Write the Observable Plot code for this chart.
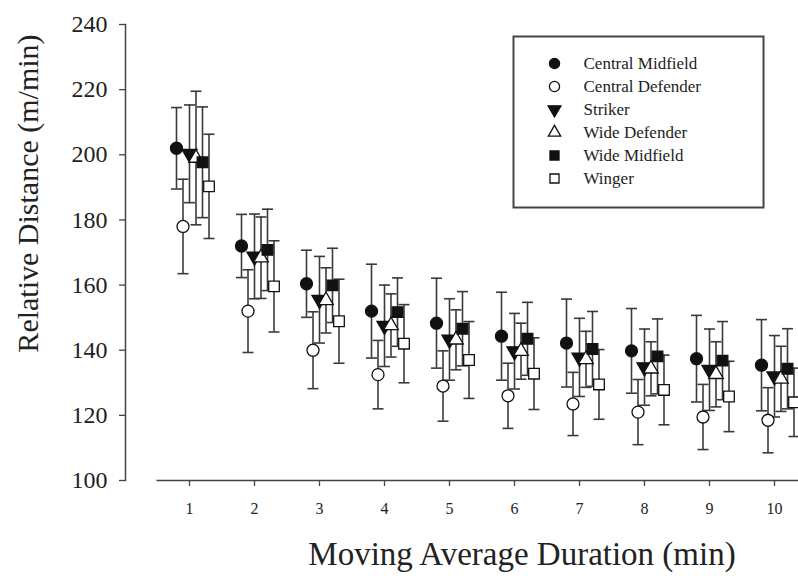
<!DOCTYPE html>
<html><head><meta charset="utf-8">
<script src="https://cdn.jsdelivr.net/npm/d3@7"></script>
<script src="https://cdn.jsdelivr.net/npm/@observablehq/plot@0.6"></script>
<style>
body{margin:0;background:#fff;}
#wrap{position:relative;width:798px;height:576px;overflow:hidden;background:#fff;}
</style></head><body><div id="wrap"></div>
<script>
// ---- data ----
const durations = [1, 2, 3, 4, 5, 6, 7, 8, 9, 10];
const yTicks = [100, 120, 140, 160, 180, 200, 220, 240];
const seriesNames = ["Central Midfield", "Central Defender", "Striker", "Wide Defender", "Wide Midfield", "Winger"];

const centralMidfieldMean = [202, 172, 160.4, 152, 148.3, 144.3, 142.2, 139.8, 137.4, 135.4];
const centralMidfieldSD   = [12.5, 9.7, 10.3, 14.4, 13.8, 13.5, 13.5, 13, 13.3, 14];
const centralDefenderMean = [178, 152, 140, 132.5, 129, 126, 123.5, 121, 119.5, 118.5];
const centralDefenderSD   = [14.5, 12.7, 11.8, 10.5, 10.8, 10, 9.7, 10, 10, 10];
const strikerMean         = [200.3, 168.8, 155.5, 147.5, 143.3, 139.7, 137.8, 134.8, 134, 132];
const strikerSD           = [15, 13, 13.3, 12.5, 12.5, 11.6, 12, 11.7, 12.5, 12.5];
const wideDefenderMean    = [199, 168.4, 155.3, 147.6, 143.2, 139.7, 137.2, 134.3, 132.6, 131.2];
const wideDefenderSD      = [20.5, 12.5, 10, 9.7, 9.2, 8.6, 8.6, 8.3, 10, 10];
const wideMidfieldMean    = [197.7, 170.8, 159.9, 151.7, 146.6, 143.5, 140.4, 138.1, 136.8, 134.3];
const wideMidfieldSD      = [17, 12.5, 11.4, 10.5, 11.4, 11.2, 11.5, 11.5, 12, 12.3];
const wingerMean          = [190.3, 159.6, 148.9, 142, 137, 132.8, 129.5, 127.8, 125.8, 124];
const wingerSD            = [16, 14, 12.9, 12, 11.8, 11, 10.7, 10.7, 10.8, 10.5];

const means = [centralMidfieldMean, centralDefenderMean, strikerMean, wideDefenderMean, wideMidfieldMean, wingerMean];
const sds = [centralMidfieldSD, centralDefenderSD, strikerSD, wideDefenderSD, wideMidfieldSD, wingerSD];

// ---- styles ----
const FONT = '"Liberation Serif", "Times New Roman", Times, serif';
const INK = "#111";
const BAR = "#3a3a3a";
const styles = [
  {symbol: "circle", fill: INK, rotate: 0, r: 6},
  {symbol: "circle", fill: "white", rotate: 0, r: 6},
  {symbol: "triangle", fill: INK, rotate: 180, r: 5.6},
  {symbol: "triangle", fill: "white", rotate: 0, r: 5.4},
  {symbol: "square", fill: INK, rotate: 0, r: 6},
  {symbol: "square", fill: "white", rotate: 0, r: 6}
];
const dodge = 0.1; // horizontal offset between series within a cluster (x units)

const rows = [];
seriesNames.forEach((name, i) => {
  durations.forEach((d, j) => {
    const m = means[i][j], s = sds[i][j];
    rows.push({series: name, si: i, x: d + (i - 2) * dodge, mean: m, lo: m - s, hi: m + s});
  });
});

const cap = {draw(ctx, size) { const w = Math.sqrt(size / Math.PI); ctx.moveTo(-w, 0); ctx.lineTo(w, 0); }};

const markerMarks = seriesNames.map((name, i) =>
  Plot.dot(rows.filter(r => r.si === i), {
    x: "x", y: "mean", symbol: styles[i].symbol, fill: styles[i].fill,
    stroke: INK, strokeWidth: 1.3, r: styles[i].r, rotate: styles[i].rotate
  })
);

const chart = Plot.plot({
  width: 798, height: 576,
  marginLeft: 125, marginRight: 0, marginTop: 24, marginBottom: 96,
  style: {fontFamily: FONT, background: "white", color: "#222", overflow: "hidden"},
  x: {domain: [0.5, 11], range: [156.5, 839]},
  y: {domain: [100, 240]},
  marks: [
    Plot.frame({anchor: "left", stroke: "#444", strokeWidth: 1.5}),
    Plot.axisY({ticks: yTicks, tickSize: 6, tickPadding: 12, fontSize: 24, label: null, stroke: "#444", strokeWidth: 1.3}),
    Plot.ruleY([100], {x1: 0.5, x2: 11, stroke: "#444", strokeWidth: 1.5}),
    Plot.axisX({ticks: durations, tickSize: 6, tickPadding: 16, fontSize: 16, label: null, stroke: "#444", strokeWidth: 1.3}),
    Plot.ruleX(rows, {x: "x", y1: "lo", y2: "hi", stroke: BAR, strokeWidth: 1.6}),
    Plot.dot(rows, {x: "x", y: "lo", symbol: cap, r: 5.5, stroke: BAR, strokeWidth: 1.6, fill: "none"}),
    Plot.dot(rows, {x: "x", y: "hi", symbol: cap, r: 5.5, stroke: BAR, strokeWidth: 1.6, fill: "none"}),
    ...markerMarks,
    Plot.text(["Relative Distance (m/min)"], {frameAnchor: "left", textAnchor: "middle", rotate: -90, dx: -97, dy: -59, fontSize: 30, fill: "#222"}),
    Plot.text(["Moving Average Duration (min)"], {frameAnchor: "bottom", textAnchor: "middle", dx: 60, dy: 84, fontSize: 33, fill: "#222"})
  ]
});

// legend: a small plot with a point x scale for the symbol / label columns
const legendRows = seriesNames.map((name, i) => ({name, i}));
const legend = Plot.plot({
  width: 252, height: 173, margin: 0,
  style: {fontFamily: FONT, color: "#222"},
  x: {type: "point", domain: ["symbol", "label"], range: [42, 71], padding: 0, axis: null},
  y: {type: "point", domain: seriesNames, range: [28, 143], padding: 0, axis: null},
  marks: [
    Plot.frame({stroke: "#444", strokeWidth: 2, inset: 1, fill: "white"}),
    ...legendRows.map(({name, i}) => Plot.dot([name], {
      x: () => "symbol", y: d => d, symbol: styles[i].symbol, fill: styles[i].fill,
      stroke: INK, strokeWidth: 1.3, r: styles[i].r * 0.85, rotate: styles[i].rotate
    })),
    Plot.text(seriesNames, {x: () => "label", y: d => d, text: d => d, textAnchor: "start", fontSize: 17, fill: "#222"})
  ]
});

// place the legend's contents inside the main SVG, in its upper right
const g = document.createElementNS("http://www.w3.org/2000/svg", "g");
g.setAttribute("transform", "translate(512,35)");
g.setAttribute("font-family", FONT);
Array.from(legend.childNodes).forEach(n => { if (n.nodeName.toLowerCase() !== "style") g.appendChild(n); });
chart.appendChild(g);

document.getElementById("wrap").appendChild(chart);
</script>
</body></html>
